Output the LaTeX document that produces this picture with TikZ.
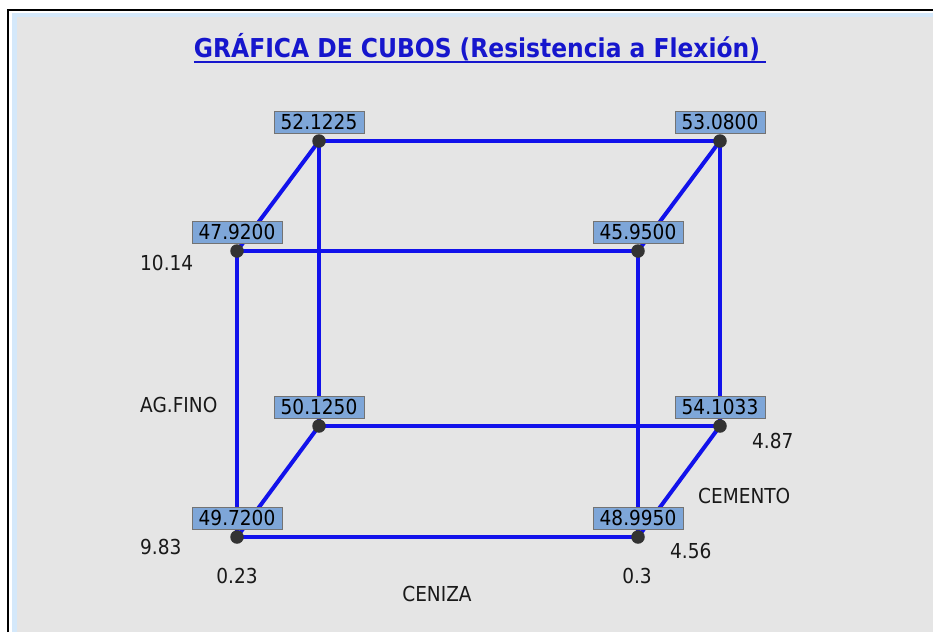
\documentclass[tikz,border=0pt]{standalone}
\usepackage{fontspec}
\setmainfont{DejaVu Sans Condensed}
\usetikzlibrary{positioning}

\definecolor{edgeblue}{RGB}{18,18,235}
\definecolor{boxfill}{RGB}{126,166,216}
\definecolor{panelgray}{RGB}{229,229,229}
\definecolor{bandblue}{RGB}{212,232,250}
\definecolor{titleblue}{RGB}{22,22,205}

\begin{document}
\begin{tikzpicture}[x=1pt,y=-1pt,
  edge/.style={draw=edgeblue,line width=4pt},
  vertex/.style={circle,fill=black!80,inner sep=0pt,minimum size=13.5pt},
  valbox/.style={draw=black!55,line width=1pt,fill=boxfill,minimum width=90pt,
    minimum height=22pt,inner sep=0pt,font=\fontsize{20.6}{20.6}\selectfont},
  lbl/.style={inner sep=0pt,text=black!90,font=\fontsize{20.6}{20.6}\selectfont}]
\useasboundingbox (0,0) rectangle (933,632);
% Frame
  \fill[white] (0,0) rectangle (933,632);
  \fill[bandblue] (12,13) rectangle (933,632);
  \fill[panelgray] (17,17) rectangle (933,632);
  \draw[line width=2pt] (8,632) -- (8,10) -- (933,10);
% Title
  \node[inner sep=0pt,text=titleblue,font=\fontsize{26}{26}\bfseries\selectfont]
    (title) at (477,47) {GRÁFICA DE CUBOS (Resistencia a Flexión)};
  \draw[titleblue,line width=2pt] ([yshift=-1pt]title.south west) -- ([xshift=6pt,yshift=-1pt]title.south east);
% Corners of the cube
  \foreach \n/\x/\y in {a/319/141, b/720/141, c/237/251, d/638/251,
                        e/319/426, f/720/426, g/237/537, h/638/537}
    \coordinate (v\n) at (\x,\y);
% Edges
  \draw[edge] (va) -- (vb);
  \draw[edge] (vc) -- (vd);
  \draw[edge] (ve) -- (vf);
  \draw[edge] (vg) -- (vh);
  \draw[edge] (va) -- (vc);
  \draw[edge] (vb) -- (vd);
  \draw[edge] (ve) -- (vg);
  \draw[edge] (vf) -- (vh);
  \draw[edge] (va) -- (ve);
  \draw[edge] (vb) -- (vf);
  \draw[edge] (vc) -- (vg);
  \draw[edge] (vd) -- (vh);
% Values
  \foreach \n/\v in {a/52.1225, b/53.0800, c/47.9200, d/45.9500,
                     e/50.1250, f/54.1033, g/49.7200, h/48.9950}{
    \node[valbox] (box\n) at ([yshift=19pt]v\n) {\v};
    \node[vertex] (dot\n) at (v\n) {};
  }
% Factor levels
  \node[lbl,anchor=west] (agHigh) at (140,263) {10.14};
  \node[lbl,anchor=west] (agName) at (140,405) {AG.FINO};
  \node[lbl,anchor=west] (agLow) at (140,547) {9.83};
  \node[lbl] (czLow) at (237,576) {0.23};
  \node[lbl] (czHigh) at (637,576) {0.3};
  \node[lbl] (czName) at (437,594) {CENIZA};
  \node[lbl,anchor=west] (cmLow) at (670,551) {4.56};
  \node[lbl,anchor=west] (cmName) at (698,496) {CEMENTO};
  \node[lbl,anchor=west] (cmHigh) at (752,441) {4.87};
\end{tikzpicture}
\end{document}
